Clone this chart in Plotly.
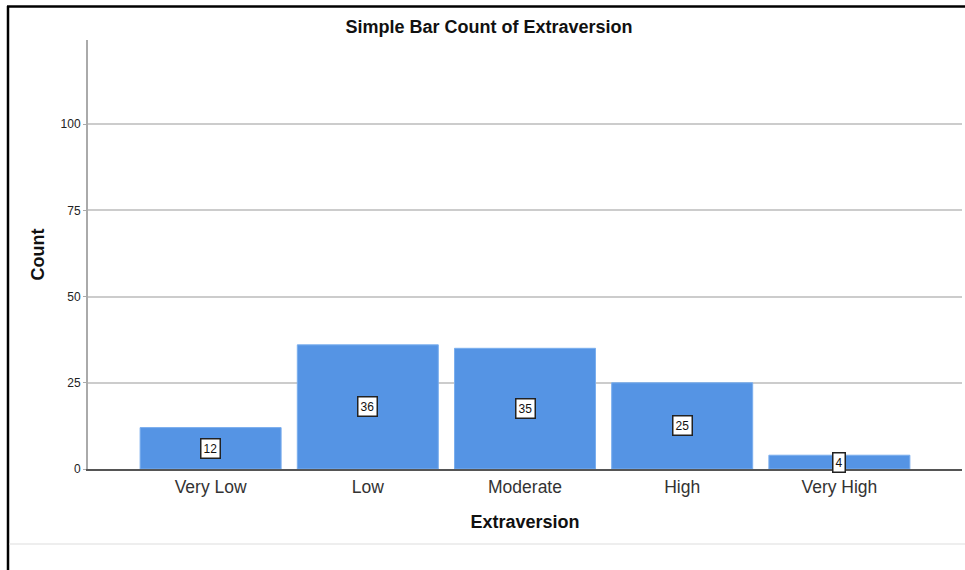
import plotly.graph_objects as go

# Extraversion level counts
categories = ["Very Low", "Low", "Moderate", "High", "Very High"]
counts = [12, 36, 35, 25, 4]
y_ticks = [0, 25, 50, 75, 100]

W, H = 965, 570
L, R, T, B = 88, 3, 40, 101
pw, ph = W - L - R, H - T - B


def px_x(x):
    return (x - L) / pw


def px_y(y):
    return (H - B - y) / ph


bar_color = "#5594E4"
font = "Liberation Sans, Arial, sans-serif"

fig = go.Figure()
fig.add_trace(go.Bar(
    x=list(range(len(categories))),
    y=counts,
    width=0.897,
    marker=dict(color=bar_color, line=dict(color="#7AAEEE", width=1)),
    hoverinfo="skip",
))

# boxed value labels at mid-bar
for i, v in enumerate(counts):
    fig.add_annotation(
        x=i, y=v / 2, xref="x", yref="y", text=str(v), showarrow=False,
        font=dict(family=font, size=12, color="#111111"),
        bgcolor="white", bordercolor="#222222", borderwidth=1.5, borderpad=2,
    )

fig.update_layout(
    width=W, height=H,
    margin=dict(l=L, r=R, t=T, b=B),
    paper_bgcolor="white", plot_bgcolor="white",
    showlegend=False,
    font=dict(family=font, color="#333333"),
    title=dict(
        text="<b>Simple Bar Count of Extraversion</b>",
        x=489 / W, xanchor="center", y=1 - 27 / H, yanchor="middle",
        font=dict(family=font, size=18, color="#111111"),
    ),
    xaxis=dict(
        range=[-0.78, 4.78],
        tickmode="array", tickvals=list(range(len(categories))), ticktext=categories,
        tickfont=dict(family=font, size=17.5, color="#333333"),
        ticklabelstandoff=1,
        showgrid=False, zeroline=False,
        showline=True, linecolor="#555555", linewidth=1.5,
        ticks="", ticklen=0,
        title=dict(text="<b>Extraversion</b>", font=dict(family=font, size=18, color="#111111"),
                   standoff=20),
    ),
    yaxis=dict(
        range=[0, 124.4],
        tickmode="array", tickvals=y_ticks, ticktext=[str(t) for t in y_ticks],
        tickfont=dict(family=font, size=12, color="#222222"),
        showgrid=True, gridcolor="#CCCCCC", gridwidth=1.5,
        zeroline=False,
        showline=True, linecolor="#AAAAAA", linewidth=2,
        ticks="outside", ticklen=3, tickcolor="#AAAAAA",
        ticklabelstandoff=0,
        title=dict(text="<b>Count</b>", font=dict(family=font, size=18, color="#111111"),
                   standoff=11),
    ),
)

# outer frame: left and top black edges, light gray bottom rule
fig.add_shape(type="line", xref="paper", yref="paper",
              x0=px_x(8), x1=px_x(8), y0=px_y(6), y1=px_y(H + 5),
              line=dict(color="black", width=2.5))
fig.add_shape(type="line", xref="paper", yref="paper",
              x0=px_x(7), x1=px_x(W + 5), y0=px_y(6.5), y1=px_y(6.5),
              line=dict(color="black", width=2.5))
fig.add_shape(type="line", xref="paper", yref="paper",
              x0=px_x(9), x1=px_x(W + 5), y0=px_y(544), y1=px_y(544),
              line=dict(color="#DDDDDD", width=1))

fig.write_html("out.html")
